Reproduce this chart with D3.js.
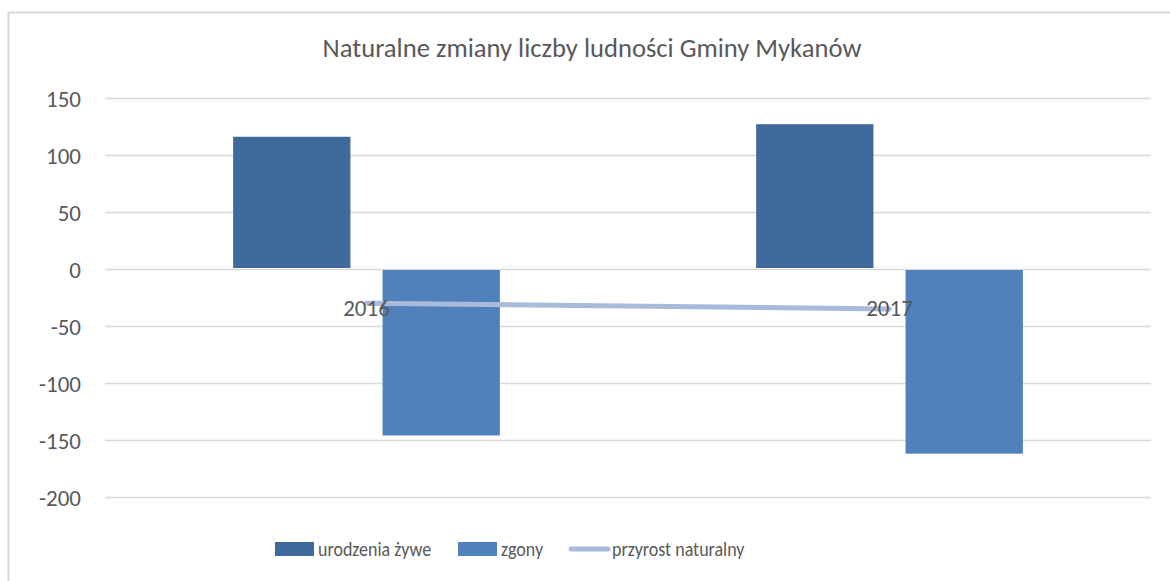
<!DOCTYPE html>
<html>
<head>
	<meta charset="utf-8" />
	<title>Naturalne zmiany liczby ludności</title>
	<script type="text/javascript" src="https://cdn.jsdelivr.net/npm/d3@7/dist/d3.min.js" charset="utf-8"></script>
	<style>
		body { margin: 0; background: #fff; }
		svg text { font-family: "Carlito", "Liberation Sans", Arial, sans-serif; fill: #595959; }
	</style>
</head>
<body>

<div id="chart"><svg></svg></div>

<script type="text/javascript">
/* data */
var title = "Naturalne zmiany liczby ludności Gminy Mykanów";
var years = ["2016", "2017"];
var births = [116, 127];
var deaths = [-146, -162];
var growth = [-30, -35];
var series_names = ["urodzenia żywe", "zgony", "przyrost naturalny"];
var y_ticks = [150, 100, 50, 0, -50, -100, -150, -200];

var colors = {
	births: "#416a9c",
	deaths: "#4f81bd",
	growth: "#a9badb",
	grid:   "#d9d9d9"
};

(function drawChart() {
	var W = 1170, H = 581;
	var plot = { left: 105, right: 1151, top: 98, bottom: 497 };

	var svg = d3.select("#chart > svg")
		.attr("width", W)
		.attr("height", H);

	// chart frame
	svg.append("rect")
		.attr("x", 8.5).attr("y", 12.5)
		.attr("width", 1170).attr("height", 600)
		.attr("fill", "#fff")
		.attr("stroke", colors.grid)
		.attr("stroke-width", 2);

	svg.append("text")
		.attr("x", 592).attr("y", 57)
		.attr("text-anchor", "middle")
		.style("font-size", "26.6px")
		.text(title);

	var y = d3.scaleLinear()
		.domain([-200, 150])
		.range([plot.bottom, plot.top]);

	var x0 = d3.scaleBand()
		.domain(years)
		.range([plot.left, plot.right]);

	// two bars per category, 51% of the band
	var groupW = x0.bandwidth() * 0.51;
	var x1 = d3.scaleBand()
		.domain(["births", "deaths"])
		.range([(x0.bandwidth() - groupW) / 2, (x0.bandwidth() + groupW) / 2])
		.paddingInner(0.215);

	// gridlines + tick labels
	var yAxis = d3.axisLeft(y)
		.tickValues(y_ticks)
		.tickSize(-(plot.right - plot.left))
		.tickPadding(24)
		.tickFormat(function(d) { return String(d); });

	var gy = svg.append("g")
		.attr("transform", "translate(" + plot.left + ",0)")
		.call(yAxis);
	gy.select(".domain").remove();
	gy.selectAll(".tick line")
		.attr("stroke", colors.grid)
		.attr("stroke-width", 1.5);
	gy.selectAll(".tick text")
		.attr("dy", "0.35em")
		.style("font-size", "23px");
	gy.attr("font-family", null).attr("font-size", null);

	// bars
	var bars = svg.append("g");
	years.forEach(function(yr, i) {
		[["births", births[i]], ["deaths", deaths[i]]].forEach(function(s) {
			var v = s[1];
			bars.append("rect")
				.attr("x", x0(yr) + x1(s[0]))
				.attr("width", x1.bandwidth())
				.attr("y", v >= 0 ? y(v) : y(0) + 1)
				.attr("height", v >= 0 ? y(0) - y(v) - 1 : y(v) - y(0) - 1)
				.attr("fill", colors[s[0]]);
		});
	});

	// line
	var line = d3.line()
		.x(function(d, i) { return x0(years[i]) + x0.bandwidth() / 2; })
		.y(function(d) { return y(d); });

	svg.append("path")
		.datum(growth)
		.attr("d", line)
		.attr("fill", "none")
		.attr("stroke", colors.growth)
		.attr("stroke-width", 5)
		.attr("stroke-linecap", "round");

	// category labels
	svg.append("g").selectAll("text")
		.data(years)
		.join("text")
		.attr("x", function(d) { return x0(d) + x0.bandwidth() / 2; })
		.attr("y", y(0) + 47)
		.attr("text-anchor", "middle")
		.style("font-size", "23px")
		.text(function(d) { return d; });

	// legend
	var legend = svg.append("g");
	var items = [
		{ name: series_names[0], x: 275, type: "rect", color: colors.births },
		{ name: series_names[1], x: 458, type: "rect", color: colors.deaths },
		{ name: series_names[2], x: 569, type: "line", color: colors.growth }
	];
	items.forEach(function(it) {
		if (it.type === "rect") {
			legend.append("rect")
				.attr("x", it.x).attr("y", 542)
				.attr("width", 39).attr("height", 14)
				.attr("fill", it.color);
		} else {
			legend.append("line")
				.attr("x1", it.x + 2).attr("x2", it.x + 39)
				.attr("y1", 549).attr("y2", 549)
				.attr("stroke", it.color)
				.attr("stroke-width", 5)
				.attr("stroke-linecap", "round");
		}
		// legend text is a bit condensed in the original
		legend.append("text")
			.attr("transform", "translate(" + (it.x + 43) + ",556) scale(0.9,1)")
			.style("font-size", "20px")
			.text(it.name);
	});
})();
</script>
</body>
</html>
